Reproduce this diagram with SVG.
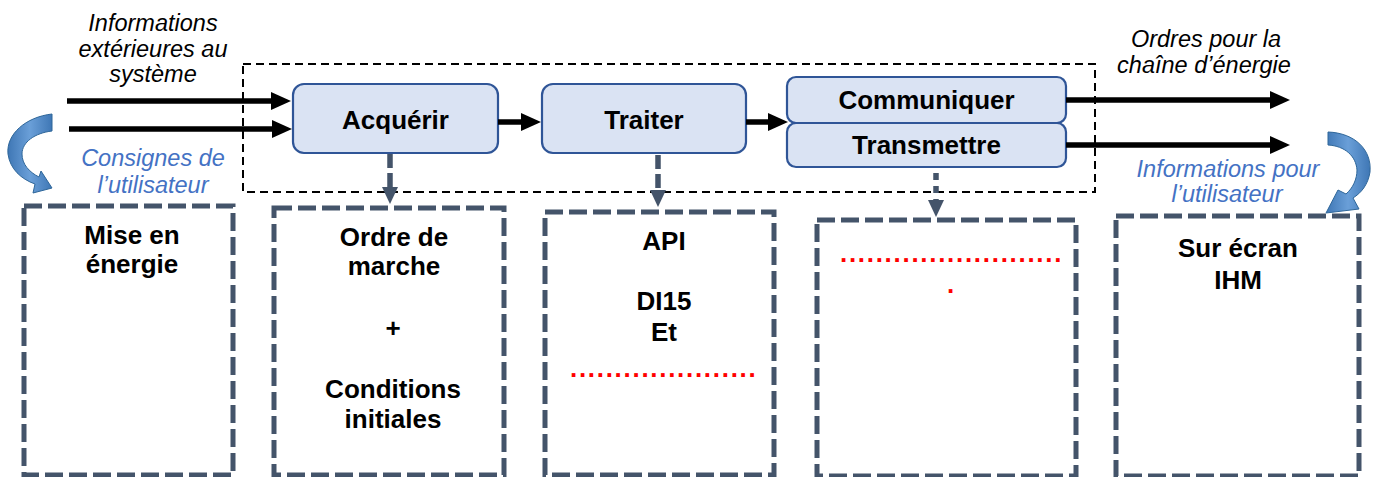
<svg xmlns="http://www.w3.org/2000/svg" width="1375" height="477" viewBox="0 0 1375 477">
  <style>
    .bg { fill: #ffffff; }
    .frame { fill: none; stroke: #000000; stroke-width: 2; stroke-dasharray: 8 5; }
    .func { fill: #DAE3F3; stroke: #2F5597; stroke-width: 2.2; }
    .title { font-family: "Liberation Sans", Arial, sans-serif; font-weight: bold; font-size: 26px; fill: #000000; text-anchor: middle; }
    .label { font-family: "Liberation Sans", Arial, sans-serif; font-style: italic; font-size: 23.5px; fill: #000000; text-anchor: middle; }
    .user { fill: #4472C4; }
    .dots { font-family: "Liberation Sans", Arial, sans-serif; font-weight: bold; font-size: 26px; fill: #FF0000; letter-spacing: 1.7px; }
    .zone { fill: none; stroke: #44546A; stroke-width: 5; stroke-dasharray: 18 6; }
    .flow { fill: none; stroke: #000000; stroke-width: 5.5; marker-end: url(#headBlack); }
    .link { fill: none; stroke: #44546A; stroke-width: 5.5; stroke-dasharray: 14 5; marker-end: url(#headSlate); }
    .curl { fill: url(#curlFill); stroke: #2E6699; stroke-width: 1; }
  </style>
  <defs>
    <marker id="headBlack" markerUnits="userSpaceOnUse" viewBox="0 0 20 18" refX="1" refY="9" markerWidth="20" markerHeight="18" orient="auto">
      <path d="M0,0 L20,9 L0,18 Z" fill="#000000"/>
    </marker>
    <marker id="headSlate" markerUnits="userSpaceOnUse" viewBox="0 0 17 16" refX="1" refY="8" markerWidth="17" markerHeight="16" orient="auto">
      <path d="M0,0 L17,8 L0,16 Z" fill="#44546A"/>
    </marker>
    <linearGradient id="curlFill" x1="0" y1="0" x2="1" y2="0">
      <stop offset="0" stop-color="#3F77B5"/>
      <stop offset="0.5" stop-color="#6A9FD8"/>
      <stop offset="1" stop-color="#3F77B5"/>
    </linearGradient>
  </defs>

  <rect class="bg" x="0" y="0" width="1375" height="477"/>

  <!-- control chain boundary -->
  <rect id="chain-frame" class="frame" x="243" y="64" width="852" height="128"/>

  <!-- external labels -->
  <g id="label-inputs">
    <text class="label" x="153" y="31">Informations</text>
    <text class="label" x="153" y="57">extérieures au</text>
    <text class="label" x="153" y="82">système</text>
  </g>
  <g id="label-user-in">
    <text class="label user" x="153" y="166">Consignes de</text>
    <text class="label user" x="153" y="193">l’utilisateur</text>
  </g>
  <g id="label-outputs">
    <text class="label" x="1206" y="47">Ordres pour la</text>
    <text class="label" x="1204" y="73">chaîne d’énergie</text>
  </g>
  <g id="label-user-out">
    <text class="label user" x="1228" y="177">Informations pour</text>
    <text class="label user" x="1227" y="202">l’utilisateur</text>
  </g>

  <!-- function blocks -->
  <g id="acquerir">
    <rect class="func" x="293" y="84" width="205" height="69" rx="11"/>
    <text class="title" x="395.5" y="129">Acquérir</text>
  </g>
  <g id="traiter">
    <rect class="func" x="542" y="84" width="204" height="69" rx="11"/>
    <text class="title" x="644" y="129">Traiter</text>
  </g>
  <g id="communiquer">
    <rect class="func" x="787" y="77" width="279" height="46" rx="9"/>
    <text class="title" x="926.5" y="109">Communiquer</text>
  </g>
  <g id="transmettre">
    <rect class="func" x="787" y="123" width="279" height="44" rx="9"/>
    <text class="title" x="926.5" y="154">Transmettre</text>
  </g>

  <!-- component zones -->
  <g id="zone-energie">
    <rect class="zone" x="24" y="206" width="209" height="269"/>
    <text class="title" x="132" y="244">Mise en</text>
    <text class="title" x="132" y="273">énergie</text>
  </g>
  <g id="zone-acquerir">
    <rect class="zone" x="274" y="208" width="230" height="267"/>
    <text class="title" x="394" y="246">Ordre de</text>
    <text class="title" x="394" y="275">marche</text>
    <text class="title" x="393" y="337">+</text>
    <text class="title" x="393" y="398">Conditions</text>
    <text class="title" x="393" y="428">initiales</text>
  </g>
  <g id="zone-traiter">
    <rect class="zone" x="545" y="212" width="229" height="263"/>
    <text class="title" x="664" y="250">API</text>
    <text class="title" x="664" y="310">DI15</text>
    <text class="title" x="664" y="341">Et</text>
    <text class="dots" x="570" y="377">.....................</text>
  </g>
  <g id="zone-communiquer">
    <rect class="zone" x="817" y="220" width="259" height="256"/>
    <text class="dots" x="840" y="262">.........................</text>
    <text class="dots" x="947" y="293">.</text>
  </g>
  <g id="zone-ihm">
    <rect class="zone" x="1116" y="216" width="243" height="260"/>
    <text class="title" x="1238" y="257">Sur écran</text>
    <text class="title" x="1238" y="289">IHM</text>
  </g>

  <!-- connectors -->
  <g id="connectors">
    <line class="flow" x1="67" y1="101" x2="272" y2="101"/>
    <line class="flow" x1="69" y1="129" x2="273" y2="129"/>
    <line class="flow" x1="498" y1="122" x2="522" y2="122"/>
    <line class="flow" x1="746" y1="122" x2="769" y2="122"/>
    <line class="flow" x1="1066" y1="100" x2="1271" y2="100"/>
    <line class="flow" x1="1066" y1="145" x2="1271" y2="145"/>

    <line class="link" x1="390" y1="154" x2="390" y2="188"/>
    <line class="link" x1="658" y1="155" x2="658" y2="191"/>
    <line class="link" x1="936" y1="173" x2="936" y2="201" style="stroke-dasharray: 7 6"/>

    <path id="curl-in" class="curl" d="M52,114 C26,117 6,134 8,154 C10,169 21,179 35,184 L33,193 L52,188 L41,171 L39,177 C29,172 22,164 22,154 C22,142 35,133 52,131 Z"/>
    <path id="curl-out" class="curl" d="M1328,132 C1355,133 1372,150 1370,172 C1368,185 1361,193 1353,198 L1359,209 L1326,213 L1338,190 L1346,194 C1353,188 1357,179 1357,170 C1356,156 1345,146 1328,145 Z"/>
  </g>
</svg>
